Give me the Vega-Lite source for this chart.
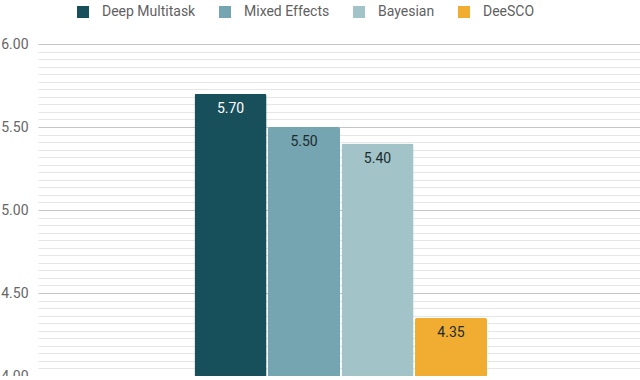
{
  "$schema": "https://vega.github.io/schema/vega-lite/v6.json",
  "autosize": {"type": "none"},
  "padding": {"left": 38, "top": 44, "right": 0, "bottom": 0},
  "width": 602,
  "height": 332,
  "background": "white",
  "config": {"font": "Roboto", "view": {"stroke": null}},
  "data": {"values": [
    {"group": "All", "model": "Deep Multitask", "score": 5.70},
    {"group": "All", "model": "Mixed Effects", "score": 5.50},
    {"group": "All", "model": "Bayesian", "score": 5.40},
    {"group": "All", "model": "DeeSCO", "score": 4.35}
  ]},
  "encoding": {
    "x": {"field": "group", "type": "nominal", "axis": null,
      "scale": {"paddingInner": 0, "paddingOuter": 0.529, "align": 0.5057}},
    "xOffset": {"field": "model", "type": "nominal", "sort": ["Deep Multitask", "Mixed Effects", "Bayesian", "DeeSCO"],
      "scale": {"paddingInner": 0.02, "paddingOuter": 0}},
    "y": {"field": "score", "type": "quantitative", "scale": {"domain": [4, 6], "nice": false, "zero": false}}
  },
  "layer": [
    {
      "mark": {"type": "bar", "cornerRadiusTopLeft": 2, "cornerRadiusTopRight": 2},
      "encoding": {
        "y": {"field": "score", "type": "quantitative", "title": null,
          "axis": {"orient": "left", "values": [4.0455,4.0909,4.1364,4.1818,4.2273,4.2727,4.3182,4.3636,4.4091,4.4545,4.5455,4.5909,4.6364,4.6818,4.7273,4.7727,4.8182,4.8636,4.9091,4.9545,5.0455,5.0909,5.1364,5.1818,5.2273,5.2727,5.3182,5.3636,5.4091,5.4545,5.5455,5.5909,5.6364,5.6818,5.7273,5.7727,5.8182,5.8636,5.9091,5.9545],
            "labels": false, "ticks": false, "domain": false, "grid": true, "gridColor": "#e6e6e6", "gridWidth": 1, "title": null}},
        "color": {"field": "model", "type": "nominal",
          "scale": {"domain": ["Deep Multitask", "Mixed Effects", "Bayesian", "DeeSCO"],
                    "range": ["#174f5b", "#75a5b1", "#a2c4c9", "#f1ad31"]},
          "legend": {"title": null, "orient": "none", "legendX": 38, "legendY": -39, "direction": "horizontal",
            "symbolType": "square", "symbolSize": 144, "symbolStrokeWidth": 0, "symbolOpacity": 1,
            "labelFontSize": 14, "labelColor": "#5f5f5f", "labelOffset": 12, "columnPadding": 22, "labelFont": "Roboto"}}
      }
    },
    {
      "mark": {"type": "text", "baseline": "middle", "align": "center", "dy": 15, "fontSize": 14},
      "encoding": {
        "y": {"field": "score", "type": "quantitative", "title": null,
          "axis": {"orient": "left", "values": [4, 4.5, 5, 5.5, 6], "format": ".2f", "grid": true, "gridColor": "#c4c4c4",
            "ticks": false, "domain": false, "labelPadding": 10, "labelFontSize": 14, "labelColor": "#666666", "title": null}},
        "text": {"field": "score", "type": "quantitative", "format": ".2f"},
        "color": {"condition": {"test": "datum.model === 'Deep Multitask'", "value": "#ffffff"}, "value": "#1d2b2f"}
      }
    }
  ],
  "resolve": {"scale": {"y": "shared", "color": "independent"}, "axis": {"y": "independent"}}
}
